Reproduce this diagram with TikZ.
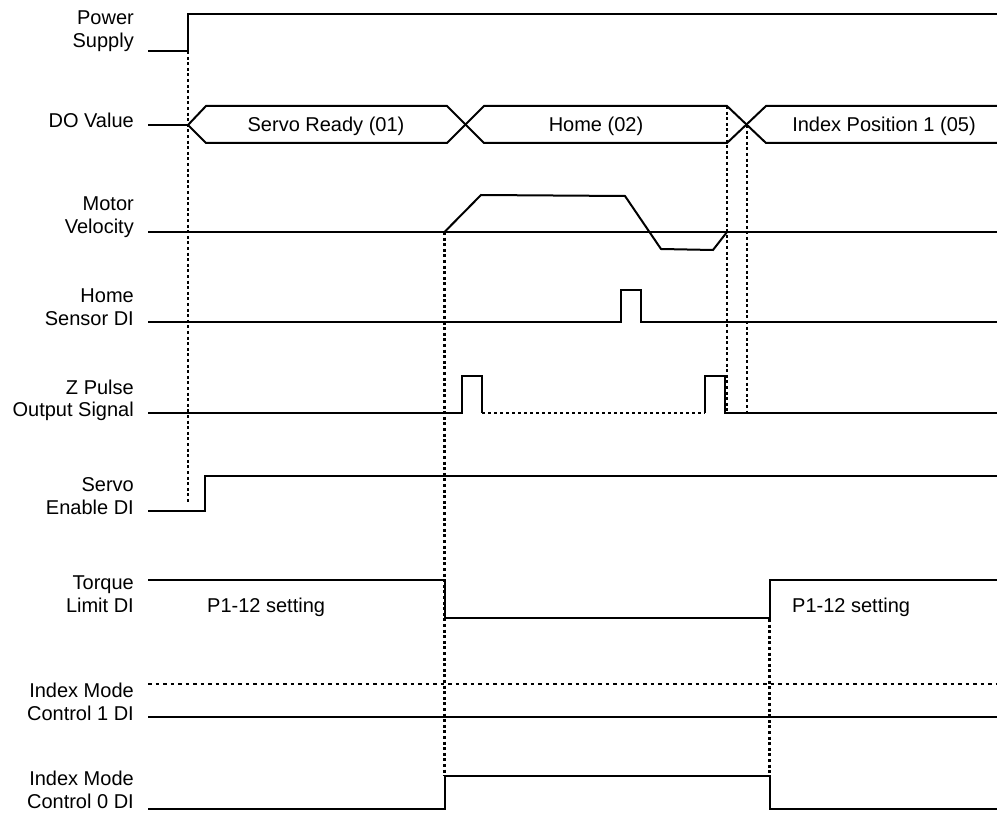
\documentclass[tikz,border=0pt]{standalone}
\usepackage{fontspec}
\setmainfont{Liberation Sans}
\begin{document}
\begin{tikzpicture}[x=1pt,y=-1pt,
  sig/.style={line width=2pt, line join=miter},
  guide/.style={line width=2.2pt, dash pattern=on 3pt off 2.6pt},
  dotsig/.style={line width=2pt, dash pattern=on 3pt off 3pt},
  thindash/.style={line width=1.2pt, dash pattern=on 3.5pt off 4pt},
  lbl/.style={anchor=base east, align=right, inner sep=0pt, font=\fontsize{20}{23}\selectfont},
  txt/.style={anchor=base, inner sep=0pt, font=\fontsize{20}{23}\selectfont}]
\useasboundingbox (0,0) rectangle (997,813);

% labels (anchor = baseline of last line)
\node[lbl] (lpow) at (134,48) {Power\\Supply};
\node[lbl] (ldo) at (134,128) {DO Value};
\node[lbl] (lvel) at (134,234) {Motor\\Velocity};
\node[lbl] (lhome) at (134,326) {Home\\Sensor DI};
\node[lbl] (lz) at (134,417) {Z Pulse\\Output Signal};
\node[lbl] (lsen) at (134,514) {Servo\\Enable DI};
\node[lbl] (ltor) at (134,612) {Torque\\Limit DI};
\node[lbl] (lim1) at (134,720) {Index Mode\\Control 1 DI};
\node[lbl] (lim0) at (134,808) {Index Mode\\Control 0 DI};

% in-diagram texts
\node[txt] (tsr) at (326,132) {Servo Ready (01)};
\node[txt] (thome) at (596,132) {Home (02)};
\node[txt] (tidx) at (884,132) {Index Position 1 (05)};
\node[txt, anchor=base west] (tp1) at (207,612) {P1-12 setting};
\node[txt, anchor=base west] (tp2) at (792,612) {P1-12 setting};

% dotted guide lines
\draw[guide] (188,51) -- (188,503);
\draw[guide] (444.5,232) -- (444.5,776);
\draw[guide] (727,106) -- (727,413);
\draw[guide] (747,125) -- (747,413);
\draw[guide] (769.5,619) -- (769.5,776);

% Power supply
\draw[sig] (148,51) -- (188,51) -- (188,14) -- (997,14);

% DO value
\draw[sig] (148,125) -- (188,125);
\draw[sig] (188,125) -- (206,106) -- (447,106) -- (484,143) -- (727,143) -- (766,106) -- (997,106);
\draw[sig] (188,125) -- (206,143) -- (447,143) -- (484,106) -- (727,106) -- (766,143) -- (997,143);

% Motor velocity
\draw[sig] (148,232) -- (997,232);
\draw[sig] (444.5,232) -- (481,195) -- (625,196) -- (661,249) -- (713,250) -- (727,232);

% Home sensor DI
\draw[sig] (148,322) -- (621,322) -- (621,290) -- (641,290) -- (641,322) -- (997,322);

% Z pulse
\draw[sig] (148,413) -- (462,413) -- (462,376) -- (482,376) -- (482,413);
\draw[dotsig] (482,413) -- (705,413);
\draw[sig] (705,413) -- (705,376) -- (725,376) -- (725,413) -- (997,413);

% Servo enable DI
\draw[sig] (148,511) -- (205,511) -- (205,476) -- (997,476);

% Torque limit DI
\draw[sig] (148,580) -- (444.5,580) -- (444.5,618) -- (769.5,618) -- (769.5,580) -- (997,580);

% Index mode control 1 DI
\draw[thindash] (148,684) -- (997,684);
\draw[sig] (148,717) -- (997,717);

% Index mode control 0 DI
\draw[sig] (148,809) -- (444.5,809) -- (444.5,776) -- (769.5,776) -- (769.5,809) -- (997,809);
\end{tikzpicture}
\end{document}
